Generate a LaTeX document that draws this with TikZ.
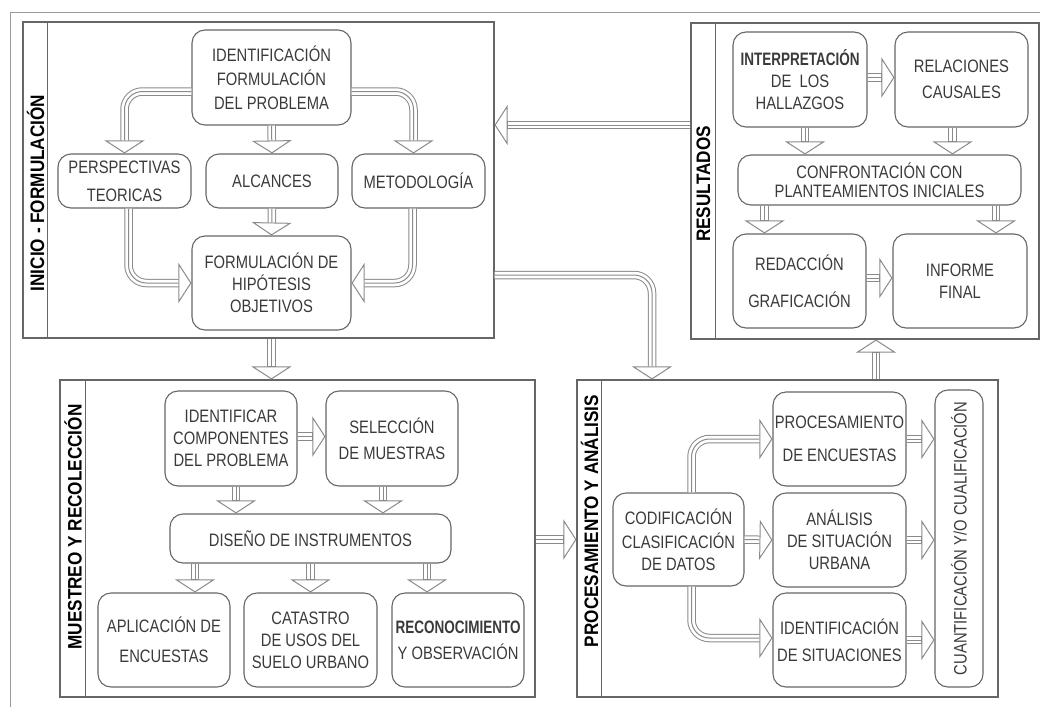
\documentclass[tikz,border=0pt]{standalone}
\usepackage{fontspec}
\setmainfont{Liberation Sans}[FakeStretch=0.82]
\newfontfamily\narrowfont{Liberation Sans}[FakeStretch=0.75]
\newfontfamily\labfont{Liberation Sans}[FakeStretch=0.88]
\usetikzlibrary{arrows.meta}
\definecolor{boxgray}{HTML}{666666}
\definecolor{pipegray}{HTML}{8A8A8A}
\definecolor{txtgray}{HTML}{3A3A3A}
\definecolor{framegray}{HTML}{9A9A9A}
\tikzset{
  box/.style={draw=boxgray, line width=1.1pt, rounded corners=13pt, align=center, inner sep=0pt,
    text=txtgray, font=\fontsize{18}{22}\selectfont},
  panel/.style={draw=boxgray, line width=1.1pt, inner sep=0pt},
  strip/.style={draw=boxgray, line width=1.1pt},
  lab/.style={rotate=90, font=\labfont\fontsize{19.5}{20}\selectfont\bfseries},
  pipe/.style={draw=pipegray, line width=8.5pt, rounded corners=18pt,
    -{Triangle[open, length=13pt, width=40pt, line width=1pt]},
    postaction={draw=white, line width=6.5pt, arrows=-, shorten >=13pt},
    postaction={draw=pipegray, line width=1pt, arrows=-, shorten >=13pt}}
}
\begin{document}
\begin{tikzpicture}[x=1pt, y=-1pt]
\useasboundingbox (0,0) rectangle (1040,707);
\draw[framegray, line width=1pt] (10,707) -- (10,12) -- (1040,12);

\node (ini) at (258.5, 180)   [panel, minimum width=471pt, minimum height=316pt] {};
\node (res) at (865, 181)     [panel, minimum width=348pt, minimum height=316pt] {};
\node (mue) at (297.5, 538.5) [panel, minimum width=475pt, minimum height=317pt] {};
\node (pro) at (787.5, 538.5) [panel, minimum width=421pt, minimum height=317pt] {};
\draw[strip] ([xshift=25pt]ini.north west) -- ([xshift=25pt]ini.south west);
\draw[strip] ([xshift=25pt]res.north west) -- ([xshift=25pt]res.south west);
\draw[strip] ([xshift=26pt]mue.north west) -- ([xshift=26pt]mue.south west);
\draw[strip] ([xshift=25pt]pro.north west) -- ([xshift=25pt]pro.south west);
\node (lini) at (35.5, 193) [lab] {INICIO - FORMULACIÓN};
\node (lres) at (703.5, 184) [lab] {RESULTADOS};
\node (lmue) at (73, 527)   [lab] {MUESTREO Y RECOLECCIÓN};
\node (lpro) at (589.5, 521) [lab] {PROCESAMIENTO Y ANÁLISIS};

\node (idf)   at (271.5, 77.5) [box, minimum width=159pt, minimum height=95pt] {IDENTIFICACIÓN\\[2pt]FORMULACIÓN\\[2pt]DEL PROBLEMA};
\node (persp) at (124.5, 181)  [box, minimum width=133pt, minimum height=54pt] {PERSPECTIVAS\\[6pt]TEORICAS};
\node (alc)   at (272, 181)    [box, minimum width=132pt, minimum height=54pt] {ALCANCES};
\node (met)   at (418.5, 181)  [box, minimum width=133pt, minimum height=54pt] {METODOLOGÍA};
\node (hip)   at (271.5, 283)  [box, minimum width=159pt, minimum height=94pt] {FORMULACIÓN DE\\HIPÓTESIS\\OBJETIVOS};
\draw[pipe] ([yshift=-14pt]idf.west) -| (persp.north);
\draw[pipe] ([yshift=-14pt]idf.east) -| ([xshift=-5pt]met.north);
\draw[pipe] (idf.south) -- (alc.north);
\draw[pipe] (alc.south) -- (hip.north);
\draw[pipe] ([xshift=4pt]persp.south) |- (hip.west);
\draw[pipe] ([xshift=-6pt]met.south) |- (hip.east);

\node (interp) at (800, 79.5)   [box, minimum width=134pt, minimum height=95pt] {{\narrowfont\bfseries INTERPRETACIÓN}\\DE\ \ LOS\\HALLAZGOS};
\node (rel)    at (961.5, 79.5) [box, minimum width=133pt, minimum height=95pt] {RELACIONES\\[4pt]CAUSALES};
\node (conf)   at (879.5, 180)  [box, minimum width=283pt, minimum height=50pt] {CONFRONTACIÓN CON\\[-3pt]PLANTEAMIENTOS INICIALES};
\node (red)    at (799.5, 281)  [box, minimum width=133pt, minimum height=94pt] {REDACCIÓN\\[15pt]GRAFICACIÓN};
\node (inf)    at (960, 281)    [box, minimum width=134pt, minimum height=94pt] {INFORME\\FINAL};
\draw[pipe] ([yshift=2pt]interp.east) -- ([yshift=2pt]rel.west);
\draw[pipe] ([xshift=5pt]interp.south) -- ([xshift=5pt]interp.south |- conf.north);
\draw[pipe] ([xshift=-9pt]rel.south) -- ([xshift=-9pt]rel.south |- conf.north);
\draw[pipe] ([xshift=-35pt]red.north |- conf.south) -- ([xshift=-35pt]red.north);
\draw[pipe] ([xshift=36pt]inf.north |- conf.south) -- ([xshift=36pt]inf.north);
\draw[pipe] ([yshift=3pt]red.east) -- ([yshift=3pt]inf.west);

\node (comp) at (231, 438.5)   [box, minimum width=132pt, minimum height=95pt] {IDENTIFICAR\\COMPONENTES\\DEL PROBLEMA};
\node (sel)  at (392, 438.5)   [box, minimum width=132pt, minimum height=95pt] {SELECCIÓN\\[4pt]DE MUESTRAS};
\node (dis)  at (310.5, 538.5) [box, minimum width=281pt, minimum height=49pt] {DISEÑO DE INSTRUMENTOS};
\node (apl)  at (164, 640)     [box, minimum width=132pt, minimum height=94pt] {APLICACIÓN DE\\[8pt]ENCUESTAS};
\node (cat)  at (310.5, 640)   [box, minimum width=133pt, minimum height=94pt] {CATASTRO\\DE USOS DEL\\SUELO URBANO};
\node (rec)  at (458, 640)     [box, minimum width=132pt, minimum height=94pt] {{\narrowfont\bfseries RECONOCIMIENTO}\\[4pt]Y OBSERVACIÓN};
\draw[pipe] ([yshift=2pt]comp.east) -- ([yshift=2pt]sel.west);
\draw[pipe] ([xshift=5pt]comp.south) -- ([xshift=5pt]comp.south |- dis.north);
\draw[pipe] ([xshift=-9pt]sel.south) -- ([xshift=-9pt]sel.south |- dis.north);
\draw[pipe] ([xshift=31pt]apl.north |- dis.south) -- ([xshift=31pt]apl.north);
\draw[pipe] (cat.north |- dis.south) -- (cat.north);
\draw[pipe] ([xshift=-31pt]rec.north |- dis.south) -- ([xshift=-31pt]rec.north);

\node (cod)  at (678.5, 539.5) [box, minimum width=131pt, minimum height=93pt] {CODIFICACIÓN\\[2pt]CLASIFICACIÓN\\DE DATOS};
\node (proc) at (839.5, 439)   [box, minimum width=133pt, minimum height=94pt] {PROCESAMIENTO\\[11pt]DE ENCUESTAS};
\node (ana)  at (839.5, 540)   [box, minimum width=133pt, minimum height=94pt] {ANÁLISIS\\DE SITUACIÓN\\URBANA};
\node (sit)  at (839.5, 640)   [box, minimum width=133pt, minimum height=94pt] {IDENTIFICACIÓN\\[5pt]DE SITUACIONES};
\node (cuan) at (959, 538.5)   [box, rotate=90, minimum width=297pt, minimum height=48pt] {CUANTIFICACIÓN Y/O CUALIFICACIÓN};
\draw[pipe] ([xshift=13pt]cod.north) |- (proc.west);
\draw[pipe] (cod.east) -- (ana.west);
\draw[pipe] ([xshift=13pt]cod.south) |- ([yshift=2pt]sit.west);
\draw[pipe] (proc.east) -- (proc.east -| cuan.north);
\draw[pipe] (ana.east) -- (ana.east -| cuan.north);
\draw[pipe] (sit.east) -- (sit.east -| cuan.north);

\draw[pipe] (ini.south -| hip.south) -- (mue.north -| hip.south);
\draw[pipe] (mue.east |- cod.east) -- (pro.west |- cod.east);
\draw[pipe] ([xshift=11pt]pro.north -| res.south) -- ([xshift=11pt]res.south);
\draw[pipe] ([yshift=56pt]res.west) -- ([yshift=56pt]res.west -| ini.east);
\draw[pipe] ([yshift=-95pt]ini.east) -| ([xshift=-135.5pt]pro.north);
\end{tikzpicture}
\end{document}
